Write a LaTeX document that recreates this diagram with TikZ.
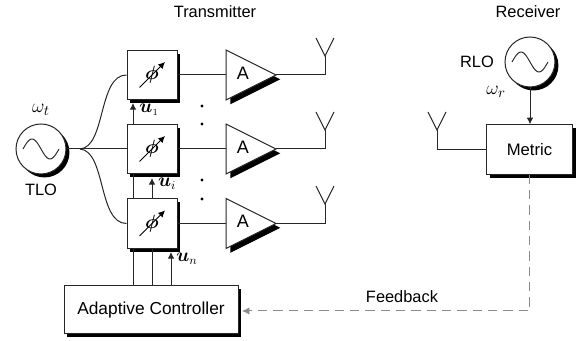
\documentclass[tikz,border=0pt]{standalone}
\usepackage{fontspec}
\usepackage{amsmath,bm}
\setmainfont{Liberation Sans}
\usetikzlibrary{shadows,arrows.meta}
\tikzset{
  wire/.style={draw=black!85,line width=0.75pt},
  sig/.style={wire,-{Latex[length=5pt,width=5pt]}},
  shad/.style={drop shadow={shadow xshift=2.6pt,shadow yshift=-2.6pt,fill=black,opacity=1}},
  blockbox/.style={draw=black!85,line width=0.75pt,fill=white,shad,rectangle,inner sep=0pt},
  phasebox/.style={blockbox,minimum width=37.5pt,minimum height=37pt},
  osc/.style={draw=black!85,line width=0.75pt,fill=white,shad,circle,inner sep=0pt,minimum size=37.5pt},
  amp/.style={draw=black!85,line width=0.75pt,fill=white,drop shadow={shadow xshift=3.2pt,shadow yshift=-3.2pt,fill=black,opacity=1}},
  txt/.style={inner sep=0pt,font=\fontsize{12.3}{14}\selectfont},
  amptxt/.style={inner sep=0pt,font=\fontsize{13.5}{14}\selectfont},
  mth/.style={inner sep=0pt,font=\fontsize{15}{17}\selectfont},
  ctl/.style={inner sep=0pt,font=\fontsize{13.5}{15}\selectfont},
  fbk/.style={draw=black!45,line width=0.75pt,dash pattern=on 7pt off 4.5pt}
}
\newcommand{\phasemark}[1]{%
  \node[inner sep=0pt,font=\fontsize{15}{16}\selectfont] at (#1) {$\bm{\phi}$};
  \draw[line width=0.75pt,-{Latex[length=5pt,width=5pt]}] ([shift={(-12.5,12.5)}]#1) -- ([shift={(13,-13)}]#1);
}
\newcommand{\sinewave}[1]{%
  \draw[line width=0.7pt,black!85,shift={(#1)}] plot[smooth,domain=-1:1,samples=31] ({\x*18},{10*sin(\x*180)});
}
\newcommand{\antenna}[2]{%
  \coordinate (#1j) at (#2);
  \draw[wire] ([shift={(-9,-18)}]#2) -- (#2) -- ([shift={(9,-18)}]#2);
}
\newcommand{\ampl}[3]{%
  \coordinate (a#1in) at (226,#2);
  \coordinate (a#1out) at (276,#2);
  \draw[amp] (226,#2-25) -- (a#1out) -- (226,#2+25) -- cycle;
  \node[amptxt] (a#1t) at (243,#3) {A};
}
\begin{document}
\begin{tikzpicture}[x=0.75pt,y=-0.75pt]
\useasboundingbox (0,0) rectangle (576,341);
% oscillators
\node[osc] (tlo) at (41,149) {};
\sinewave{tlo.center}
\node[osc] (rlo) at (530,62) {};
\sinewave{rlo.center}
% phase shifters
\node[phasebox] (p1) at (152,75) {};
\node[phasebox] (p2) at (152,149) {};
\node[phasebox] (p3) at (152,223.5) {};
\phasemark{p1.center}
\phasemark{p2.center}
\phasemark{p3.center}
% amplifiers
\ampl{1}{75}{73}
\ampl{2}{149}{147}
\ampl{3}{223.5}{221.5}
% blocks
\node[blockbox,minimum width=130.5pt,minimum height=36pt,font=\fontsize{13}{15}\selectfont] (ctrl) at (151,310) {Adaptive Controller};
\node[blockbox,minimum width=65pt,minimum height=37pt,font=\fontsize{12.5}{15}\selectfont] (metric) at (529.5,149.5) {Metric};
% antennas
\antenna{t1}{325,56}
\antenna{t2}{325,130}
\antenna{t3}{325,204}
\antenna{r}{437,130}
% splitter
\coordinate (split) at (80,149);
\draw[wire] (tlo.east) -- (p2.west);
\draw[wire] (split) .. controls (106,147) and (98,75) .. (p1.west);
\draw[wire] (split) .. controls (106,151) and (98,223.5) .. (p3.west);
% outputs
\foreach \i in {1,2,3}{
  \draw[wire] (p\i.east) -- (a\i in);
  \draw[wire] (a\i out) -| (t\i j);
}
% control lines
\draw[wire] (ctrl.north -| 133,0) -- (p3.south -| 133,0);
\draw[wire] (ctrl.north) ++(1,0) -- (p3.south);
\draw[sig] (ctrl.north -| 171,0) -- (171,252);
\draw[wire] (p3.north -| 133,0) -- (p2.south -| 133,0);
\draw[sig] (p3.north) -- (152,178);
\draw[sig] (p2.north -| 133,0) -- (133,103);
% receiver
\draw[sig] (rlo.south) -- (metric.north -| rlo.south);
\draw[wire] (metric.west) -| (rj);
% feedback
\draw[fbk,-{Latex[length=5.5pt,width=5.5pt]}] (metric.south) -- (529.5,311) -- (242,311);
% dots
\fill (202,106) circle (1.6);
\fill (202,124) circle (1.6);
\fill (202,180) circle (1.6);
\fill (202,199) circle (1.6);
% labels
\node[txt] (ttx) at (215,12) {Transmitter};
\node[txt] (trx) at (528,12) {Receiver};
\node[txt] (trlo) at (477,62) {RLO};
\node[txt] (ttlo) at (41,190) {TLO};
\node[txt] (tfb) at (402,297) {Feedback};
\node[mth] (wt) at (41,110) {$\omega_t$};
\node[mth] (wr) at (496,92) {$\omega_r$};
\node[ctl] (u1) at (149,110) {$\bm{u}_{\scriptscriptstyle 1}$};
\node[ctl] (ui) at (167,184) {$\bm{u}_i$};
\node[ctl] (un) at (187,259) {$\bm{u}_n$};
\end{tikzpicture}
\end{document}
